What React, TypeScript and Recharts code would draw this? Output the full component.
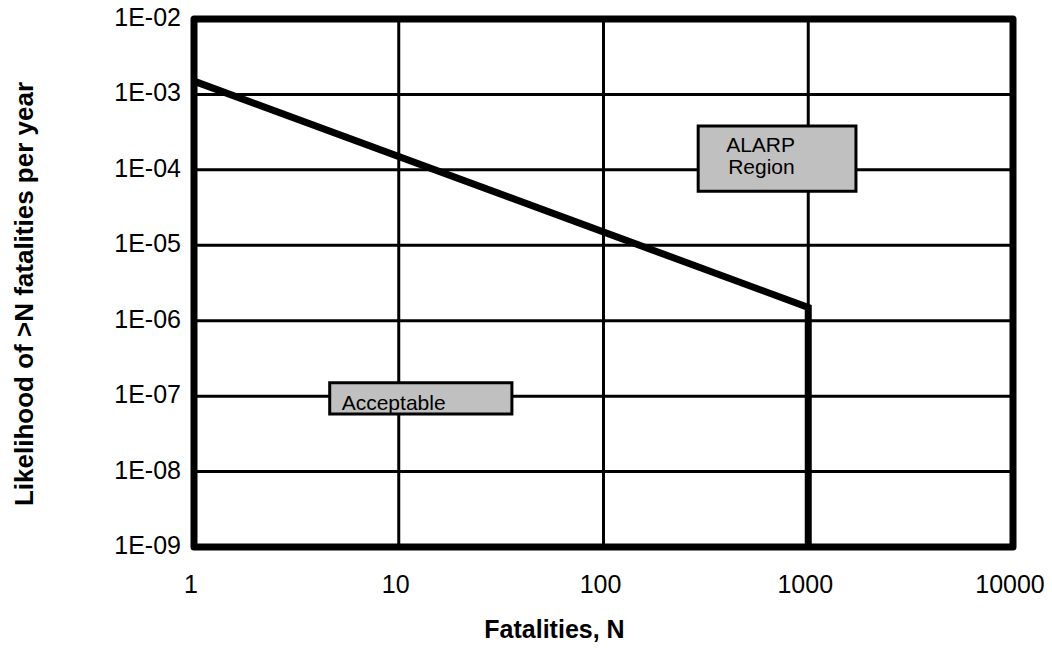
import {
  LineChart,
  Line,
  XAxis,
  YAxis,
  CartesianGrid,
  ReferenceArea,
  Label,
} from "recharts";

// F-N curve: likelihood of N or more fatalities per year
const fatalities = [1, 1000, 1000];
const likelihood = [1.5e-3, 1.5e-6, 1e-9];

const xTicks = [1, 10, 100, 1000, 10000];
const yTicks = [1e-9, 1e-8, 1e-7, 1e-6, 1e-5, 1e-4, 1e-3, 1e-2];
const yTickLabels = ["1E-09", "1E-08", "1E-07", "1E-06", "1E-05", "1E-04", "1E-03", "1E-02"];

// region annotation boxes, in data units
const alarpN = [290, 1710];
const alarpP = [5.2e-5, 3.8e-4];
const acceptableN = [4.6, 35.7];
const acceptableP = [5.8e-8, 1.5e-7];

const data = fatalities.map((n, i) => ({ n, p: likelihood[i] }));

const FONT = "'Liberation Sans', Arial, sans-serif";

const XTick = ({ x, y, payload }: any) => (
  <text x={x - 3} y={y} dy={46} textAnchor="middle" fontSize={25} fontFamily={FONT} fill="#000">
    {payload.value}
  </text>
);

const YTick = ({ x, y, payload }: any) => {
  const idx = yTicks.findIndex((t) => Math.abs(Math.log10(t) - Math.log10(payload.value)) < 1e-6);
  return (
    <text x={x - 13} y={y} dy={7} textAnchor="end" fontSize={25} fontFamily={FONT} fill="#000">
      {idx >= 0 ? yTickLabels[idx] : ""}
    </text>
  );
};

const alarpLabel = ({ viewBox }: any) => (
  <text x={viewBox.x + 28} y={viewBox.y + 26} fontSize={21} fontFamily={FONT} fill="#000">
    <tspan x={viewBox.x + 28}>ALARP</tspan>
    <tspan x={viewBox.x + 30} dy={22}>Region</tspan>
  </text>
);

const acceptableLabel = ({ viewBox }: any) => (
  <text x={viewBox.x + 12} y={viewBox.y + 27} fontSize={21} fontFamily={FONT} fill="#000">
    Acceptable
  </text>
);

export default function App() {
  return (
    <div style={{ position: "absolute", left: 0, top: 0, background: "#fff" }}>
      <LineChart
        width={1052}
        height={648}
        data={data}
        margin={{ top: 19, right: 39, bottom: 0, left: 0 }}
      >
        <CartesianGrid stroke="#000" strokeWidth={3} />
        <XAxis
          dataKey="n"
          type="number"
          scale="log"
          domain={[1, 10000]}
          ticks={xTicks}
          allowDataOverflow
          axisLine={false}
          tickLine={false}
          tickSize={0}
          tickMargin={0}
          height={101}
          tick={<XTick />}
          interval={0}
        >
          <Label
            content={({ viewBox }: any) => (
              <text
                x={viewBox.x + viewBox.width / 2 - 49}
                y={viewBox.y + 91}
                textAnchor="middle"
                fontSize={25}
                fontWeight="bold"
                fontFamily={FONT}
                fill="#000"
              >
                Fatalities, N
              </text>
            )}
          />
        </XAxis>
        <YAxis
          dataKey="p"
          type="number"
          scale="log"
          domain={[1e-9, 1e-2]}
          ticks={yTicks}
          allowDataOverflow
          axisLine={false}
          tickLine={false}
          tickSize={0}
          tickMargin={0}
          width={194}
          tick={<YTick />}
          interval={0}
        >
          <Label
            content={({ viewBox }: any) => {
              const cx = viewBox.x + 33;
              const cy = viewBox.y + viewBox.height / 2 + 11;
              return (
                <text
                  x={cx}
                  y={cy}
                  transform={`rotate(-90, ${cx}, ${cy})`}
                  textAnchor="middle"
                  fontSize={26}
                  fontWeight="bold"
                  fontFamily={FONT}
                  fill="#000"
                >
                  Likelihood of &gt;N fatalities per year
                </text>
              );
            }}
          />
        </YAxis>
        <ReferenceArea
          x1={alarpN[0]}
          x2={alarpN[1]}
          y1={alarpP[0]}
          y2={alarpP[1]}
          fill="#c0c0c0"
          fillOpacity={1}
          stroke="#000"
          strokeWidth={3}
          label={alarpLabel}
        />
        <ReferenceArea
          x1={acceptableN[0]}
          x2={acceptableN[1]}
          y1={acceptableP[0]}
          y2={acceptableP[1]}
          fill="#c0c0c0"
          fillOpacity={1}
          stroke="#000"
          strokeWidth={3}
          label={acceptableLabel}
        />
        <Line
          dataKey="p"
          type="linear"
          stroke="#000"
          strokeWidth={7}
          dot={false}
          activeDot={false}
          isAnimationActive={false}
        />
        {/* heavy frame round the plot area */}
        <ReferenceArea
          x1={xTicks[0]}
          x2={xTicks[xTicks.length - 1]}
          y1={yTicks[0]}
          y2={yTicks[yTicks.length - 1]}
          fill="none"
          stroke="#000"
          strokeWidth={7}
          strokeLinejoin="round"
        />
      </LineChart>
    </div>
  );
}
